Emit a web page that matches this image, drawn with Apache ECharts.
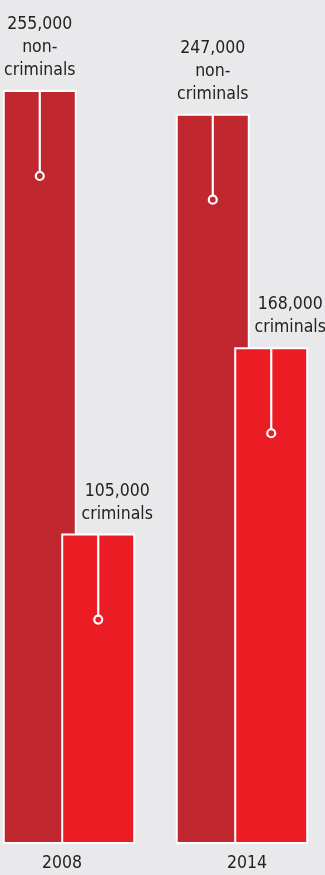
<!DOCTYPE html>
<html>
<head>
<meta charset="utf-8">
<script src="https://cdn.jsdelivr.net/npm/echarts@6/dist/echarts.min.js"></script>
<style>
	html, body { margin: 0; padding: 0; background: #e9e9eb; }
	#chart { width: 325px; height: 875px; }
</style>
</head>
<body>
<div id="chart"></div>
<script>
var years = ['2008', '2014'];
var nonCriminals = [255000, 247000];
var criminals = [105000, 168000];

var darkRed = '#c1272e';
var brightRed = '#ec1c24';
var font = '"DejaVu Sans Condensed", "DejaVu Sans", sans-serif';
var fontSize = 17.5;
var barWidth = 74;
var barGap = -0.21;
// distance from each bar's centre to the centre of its category
var half = barWidth * (1 + barGap) / 2;

function fmt(v) {
	return v.toLocaleString('en-US');
}

// white pin: line from bar top down to a small ring
function pinSeries(values, shift, color) {
	return {
		type: 'custom',
		z: 5,
		clip: false,
		data: values.map(function (v, i) { return [i, v]; }),
		renderItem: function (params, api) {
			var p = api.coord([api.value(0), api.value(1)]);
			var x = p[0] + shift;
			var top = p[1];
			var cy = top + 86;
			return {
				type: 'group',
				children: [
					{ type: 'line', shape: { x1: x, y1: top, x2: x, y2: cy - 4 }, style: { stroke: '#fff', lineWidth: 2.2 } },
					{ type: 'circle', shape: { cx: x, cy: cy, r: 4 }, style: { fill: color, stroke: '#fff', lineWidth: 2.2 } }
				]
			};
		}
	};
}

var chart = echarts.init(document.getElementById('chart'));

var option = {
	backgroundColor: '#e9e9eb',
	animation: false,
	grid: { left: 69, right: 83, top: 90, bottom: 31 },
	xAxis: {
		type: 'category',
		data: years,
		boundaryGap: false,
		axisLine: { show: false },
		axisTick: { show: false },
		axisLabel: {
			margin: 10,
			formatter: function (v) { return v === '2008' ? '{a|' + v + '}' : '{b|' + v + '}'; },
			rich: {
				a: { fontFamily: font, fontSize: fontSize, color: '#222', padding: [0, 14, 0, 0] },
				b: { fontFamily: font, fontSize: fontSize, color: '#222', padding: [0, 0, 0, 10] }
			}
		}
	},
	yAxis: {
		type: 'value',
		min: 0,
		max: 'dataMax',
		show: false,
		splitLine: { show: false }
	},
	series: [
		{
			name: 'non-criminals',
			type: 'bar',
			clip: false,
			data: nonCriminals,
			barWidth: barWidth,
			barGap: (barGap * 100) + '%',
			itemStyle: { color: darkRed, borderColor: '#fff', borderWidth: 2 },
			label: {
				show: true,
				position: 'top',
				distance: 8,
				fontFamily: font,
				fontSize: fontSize,
				lineHeight: 23,
				color: '#222',
				formatter: function (p) { return fmt(p.value) + '\nnon-\ncriminals'; }
			}
		},
		{
			name: 'criminals',
			type: 'bar',
			clip: false,
			data: criminals,
			barWidth: barWidth,
			itemStyle: { color: brightRed, borderColor: '#fff', borderWidth: 2 },
			label: {
				show: true,
				position: 'top',
				distance: 8,
				offset: [19, 0],
				fontFamily: font,
				fontSize: fontSize,
				lineHeight: 23,
				color: '#222',
				formatter: function (p) { return fmt(p.value) + '\ncriminals'; }
			}
		},
		pinSeries(nonCriminals, -half, darkRed),
		pinSeries(criminals, half, brightRed)
	]
};

chart.setOption(option);
</script>
</body>
</html>
